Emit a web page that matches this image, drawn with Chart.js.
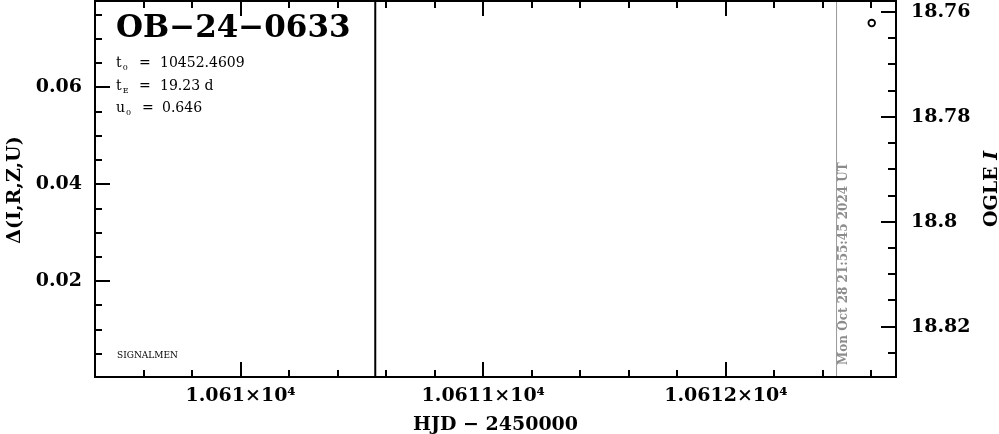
<!DOCTYPE html>
<html><head><meta charset="utf-8">
<script src="https://cdn.jsdelivr.net/npm/chart.js@4"></script>
<style>html,body{margin:0;padding:0;background:#fff}#wrap{width:999px;height:434px}</style>
</head><body><div id="wrap"><canvas id="c" width="999" height="434"></canvas></div>
<script>
// ---- data ----
const eventName = 'OB\u221224\u22120633';
const paramT0 = '10452.4609';
const paramTE = '19.23 d';
const paramU0 = '0.646';
const xRange = [10609.40, 10612.701];
const deltaRange = [0.00025, 0.0778];
const ogleRange = [18.7579, 18.8296];
const xTicks = [10610, 10611, 10612];
const xTickLabels = ['1.061\u00d710\u2074', '1.0611\u00d710\u2074', '1.0612\u00d710\u2074'];
const deltaTicks = [0.02, 0.04, 0.06];
const deltaTickLabels = ['0.02', '0.04', '0.06'];
const ogleTicks = [18.76, 18.78, 18.80, 18.82];
const ogleTickLabels = ['18.76', '18.78', '18.8', '18.82'];
const ogleHJD = [10612.601];
const ogleMag = [18.7621];
const markerHJD = 10610.555;
const nowHJD = 10612.456;
const nowLabel = 'Mon Oct 28 21:55:45 2024 UT';
const xTitle = 'HJD \u2212 2450000';
const leftTitle = '\u0394(I,R,Z,U)';
const rightTitle = 'OGLE ';
const rightTitleItalic = 'I';
const creditLabel = 'SIGNALMEN';

const FONT = '"DejaVu Serif", serif';

const framePlugin = {
  id: 'frame',
  afterDraw(chart) {
    const ctx = chart.ctx, a = chart.chartArea;
    const sx = chart.scales.x, sy = chart.scales.y, s2 = chart.scales.y2;
    ctx.save();
    ctx.strokeStyle = '#000';
    ctx.lineWidth = 2;
    const L = Math.round(a.left), R = Math.round(a.right), T = Math.round(a.top), B = Math.round(a.bottom);
    ctx.strokeRect(L, T, R - L, B - T);
    ctx.beginPath();
    for (let k = Math.ceil(sx.min / 0.2); k <= Math.floor(sx.max / 0.2); k++) {
      const v = k * 0.2;
      const major = Math.abs(v - Math.round(v)) < 1e-6;
      const len = major ? 15 : 7;
      const px = Math.round(sx.getPixelForValue(v));
      ctx.moveTo(px, B); ctx.lineTo(px, B - len);
      ctx.moveTo(px, T); ctx.lineTo(px, T + len);
    }
    for (let k = Math.ceil(sy.min / 0.005); k <= Math.floor(sy.max / 0.005); k++) {
      const v = k * 0.005;
      const major = Math.abs(v / 0.02 - Math.round(v / 0.02)) < 1e-6;
      const len = major ? 15 : 7;
      const py = Math.round(sy.getPixelForValue(v));
      ctx.moveTo(L, py); ctx.lineTo(L + len, py);
    }
    for (let k = Math.ceil(s2.min / 0.005 - 1e-9); k <= Math.floor(s2.max / 0.005 + 1e-9); k++) {
      const v = k * 0.005;
      const major = Math.abs(v / 0.02 - Math.round(v / 0.02)) < 1e-6;
      const len = major ? 15 : 8;
      const py = Math.round(s2.getPixelForValue(v));
      ctx.moveTo(R, py); ctx.lineTo(R - len, py);
    }
    ctx.stroke();

    ctx.fillStyle = '#000';
    ctx.textBaseline = 'alphabetic';
    ctx.textAlign = 'left';
    ctx.font = 'bold 31px ' + FONT;
    ctx.fillText(eventName, 116, 37);

    const rows = [['t', '0', paramT0, 67, 116, 139, 160], ['t', 'E', paramTE, 90, 116, 139, 160], ['u', '0', paramU0, 112, 116, 142, 162]];
    rows.forEach(r => {
      ctx.font = '14px ' + FONT;
      ctx.fillText(r[0], r[4], r[3]);
      const w = ctx.measureText(r[0]).width;
      ctx.font = '8px ' + FONT;
      ctx.fillText(r[1], r[4] + w + 1, r[3] + 3);
      ctx.font = '14px ' + FONT;
      ctx.fillText('=', r[5], r[3]);
      ctx.fillText(r[2], r[6], r[3]);
    });

    ctx.font = '9px ' + FONT;
    ctx.fillText(creditLabel, 117, 358);

    ctx.save();
    ctx.fillStyle = '#8c8c8c';
    ctx.font = 'bold 12px ' + FONT;
    ctx.translate(Math.round(sx.getPixelForValue(nowHJD)) + 10, 365);
    ctx.rotate(-Math.PI / 2);
    ctx.fillText(nowLabel, 0, 0);
    ctx.restore();

    ctx.font = 'bold 19px ' + FONT;
    ctx.textAlign = 'center';
    ctx.fillText(xTitle, (L + R) / 2, 430);

    ctx.save();
    ctx.translate(20, 190);
    ctx.rotate(-Math.PI / 2);
    ctx.fillText(leftTitle, 0, 0);
    ctx.restore();

    ctx.save();
    ctx.translate(997, 189);
    ctx.rotate(-Math.PI / 2);
    ctx.textAlign = 'left';
    ctx.font = 'bold 19px ' + FONT;
    const w1 = ctx.measureText(rightTitle).width;
    ctx.font = 'italic bold 19px ' + FONT;
    const w2 = ctx.measureText(rightTitleItalic).width;
    const start = -(w1 + w2) / 2;
    ctx.font = 'bold 19px ' + FONT;
    ctx.fillText(rightTitle, start, 0);
    ctx.font = 'italic bold 19px ' + FONT;
    ctx.fillText(rightTitleItalic, start + w1, 0);
    ctx.restore();

    ctx.restore();
  }
};

const tickFont = { family: FONT, size: 19, weight: 'bold' };
const noPad = s => { s.paddingTop = 0; s.paddingBottom = 0; s.paddingLeft = 0; s.paddingRight = 0; };

new Chart(document.getElementById('c'), {
  type: 'scatter',
  data: {
    datasets: [
      {
        data: ogleHJD.map((x, i) => ({ x, y: ogleMag[i] })),
        yAxisID: 'y2',
        pointRadius: 3.3,
        pointBorderWidth: 1.8,
        pointBorderColor: '#000',
        pointBackgroundColor: '#fff',
        showLine: false
      },
      {
        type: 'line',
        data: [{ x: markerHJD, y: deltaRange[0] }, { x: markerHJD, y: deltaRange[1] }],
        yAxisID: 'y',
        borderColor: '#000',
        borderWidth: 2,
        pointRadius: 0
      },
      {
        type: 'line',
        data: [{ x: nowHJD, y: deltaRange[0] }, { x: nowHJD, y: deltaRange[1] }],
        yAxisID: 'y',
        borderColor: '#999999',
        borderWidth: 1,
        pointRadius: 0
      }
    ]
  },
  options: {
    responsive: false,
    animation: false,
    devicePixelRatio: 1,
    layout: { autoPadding: false, padding: { top: 1, left: 0, right: 0, bottom: 0 } },
    plugins: { legend: { display: false }, tooltip: { enabled: false } },
    scales: {
      x: {
        type: 'linear', position: 'bottom', min: xRange[0], max: xRange[1],
        afterBuildTicks: s => { s.ticks = xTicks.map(v => ({ value: v })); },
        afterFit: s => { s.height = 57; noPad(s); },
        ticks: { callback: v => xTickLabels[xTicks.indexOf(v)], font: tickFont, color: '#000', padding: 8, maxRotation: 0, autoSkip: false },
        grid: { display: false, drawTicks: false, tickLength: 0 },
        border: { display: false }
      },
      y: {
        type: 'linear', position: 'left', min: deltaRange[0], max: deltaRange[1],
        afterBuildTicks: s => { s.ticks = deltaTicks.map(v => ({ value: v })); },
        afterFit: s => { s.width = 95; noPad(s); },
        ticks: { callback: v => deltaTickLabels[deltaTicks.indexOf(v)], font: tickFont, color: '#000', padding: 13, autoSkip: false },
        grid: { display: false, drawTicks: false, tickLength: 0 },
        border: { display: false }
      },
      y2: {
        type: 'linear', position: 'right', reverse: true, min: ogleRange[0], max: ogleRange[1],
        afterBuildTicks: s => { s.ticks = ogleTicks.map(v => ({ value: v })); },
        afterFit: s => { s.width = 103; noPad(s); },
        ticks: { callback: v => ogleTickLabels[ogleTicks.indexOf(v)], font: tickFont, color: '#000', padding: 15, autoSkip: false },
        grid: { display: false, drawTicks: false, tickLength: 0 },
        border: { display: false }
      }
    }
  },
  plugins: [framePlugin]
});
</script>
</body></html>
